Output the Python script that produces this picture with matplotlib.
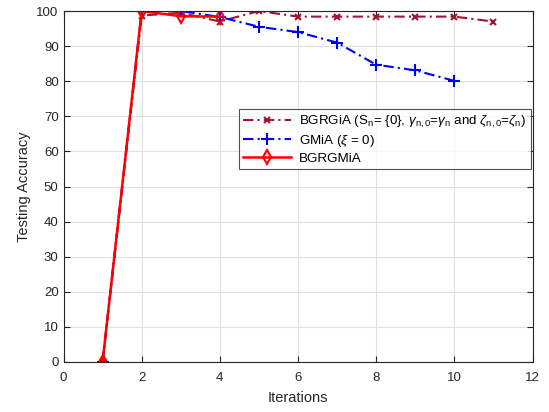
import matplotlib
matplotlib.use('Agg')
import matplotlib.pyplot as plt

plt.rcParams['font.family'] = ['Liberation Sans', 'DejaVu Sans']
plt.rcParams['mathtext.fontset'] = 'custom'
plt.rcParams['mathtext.rm'] = 'Liberation Sans'
plt.rcParams['mathtext.it'] = 'Liberation Sans:italic'

# Datos
iter_bgrgia = [1, 2, 3, 4, 5, 6, 7, 8, 9, 10, 11]
acc_bgrgia = [0, 98.7, 99.5, 97.0, 100, 98.4, 98.4, 98.4, 98.4, 98.4, 97.0]

iter_gmia = [1, 2, 3, 4, 5, 6, 7, 8, 9, 10]
acc_gmia = [0, 100, 100, 98.3, 95.5, 94.0, 91.0, 84.7, 83.1, 80.1]

iter_bgrgmia = [1, 2, 3, 4]
acc_bgrgmia = [0, 100, 98.5, 98.4]

etiquetas = [r'BGRGiA (S$_\mathregular{n}$= {0}, $\gamma_\mathregular{n,0}$=$\gamma_\mathregular{n}$ and $\zeta_\mathregular{n,0}$=$\zeta_\mathregular{n}$)',
             r'GMiA ($\xi$ = 0)',
             'BGRGMiA']

fig = plt.figure(figsize=(5.49, 4.12), dpi=100)
ax = fig.add_axes([63.5 / 549, 50 / 412, 469 / 549, 351 / 412])

ax.plot(iter_bgrgia, acc_bgrgia, color='#A2142F', linestyle=(0, (5, 2, 1, 2)), marker='x',
        markersize=5, markeredgewidth=1.5, linewidth=1.5, label=etiquetas[0])
ax.plot(iter_gmia, acc_gmia, color='b', linestyle=(0, (5, 2, 1, 2)), marker='+',
        markersize=8, markeredgewidth=1.5, linewidth=1.5, label=etiquetas[1])
ax.plot(iter_bgrgmia, acc_bgrgmia, color='r', linestyle='-', marker='d',
        markersize=7, markerfacecolor='none', markeredgewidth=1.5, linewidth=1.8,
        label=etiquetas[2])

ax.set_xlim(0, 12)
ax.set_ylim(0, 100)
ax.set_xticks(range(0, 13, 2))
ax.set_yticks(range(0, 101, 10))
ax.grid(True, color='#e0e0e0', linewidth=0.8)
ax.set_axisbelow(True)
ax.tick_params(direction='in', top=True, right=True, labelsize=9.5,
               colors='#262626', length=4)
ax.tick_params(axis='x', pad=7)
for s in ax.spines.values():
    s.set_color('#262626')
    s.set_linewidth(0.8)

ax.set_xlabel('Iterations', fontsize=10.5, labelpad=5, color='#262626')
ax.set_ylabel('Testing Accuracy', fontsize=10.5, labelpad=4, color='#262626')

leg = ax.legend(loc='upper right', bbox_to_anchor=(0.997, 0.721), fontsize=9.6,
                frameon=True, fancybox=False, edgecolor='#262626',
                borderpad=0.35, labelspacing=0.25, handlelength=3.6,
                handletextpad=0.6, borderaxespad=0)
leg.get_frame().set_linewidth(0.8)

plt.savefig('out.png', dpi=100)
